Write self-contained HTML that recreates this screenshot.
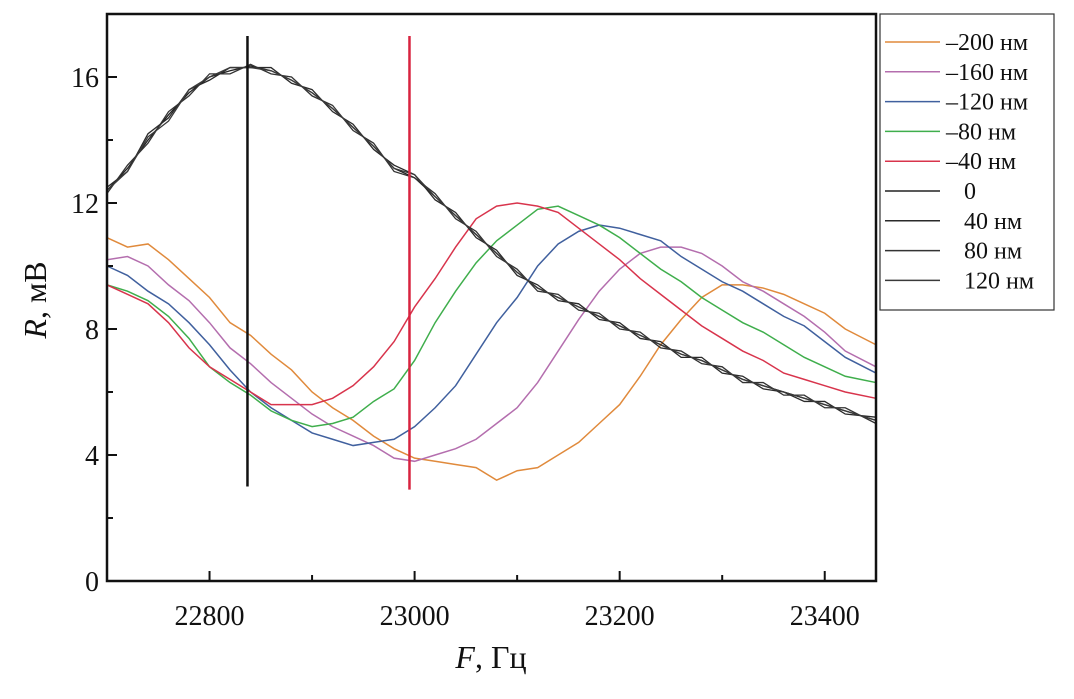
<!DOCTYPE html>
<html><head><meta charset="utf-8"><style>
body{margin:0;background:#fff;width:1074px;height:694px;overflow:hidden}
svg text{font-family:"Liberation Serif",serif;fill:#111}
</style></head><body>
<svg width="1074" height="694">
<g id="plot"></g>
<rect x="107" y="14" width="769" height="567" fill="none" stroke="#111" stroke-width="2.5"/>
<g id="axes"></g>
<text x="46" y="300" font-size="32" text-anchor="middle" transform="rotate(-90 46 300)"><tspan font-style="italic">R</tspan>, мВ</text>
<text x="491" y="668" font-size="32" text-anchor="middle"><tspan font-style="italic">F</tspan>, Гц</text>
<rect x="880" y="14" width="174" height="296" fill="#fff" stroke="#333" stroke-width="1.2"/>
<g id="legend"></g>
</svg>
<script>
const F = [22700,22720,22740,22760,22780,22800,22820,22840,22860,22880,22900,22920,22940,22960,22980,23000,23020,23040,23060,23080,23100,23120,23140,23160,23180,23200,23220,23240,23260,23280,23300,23320,23340,23360,23380,23400,23420,23450];
const sM200 = [10.9,10.6,10.7,10.2,9.6,9.0,8.2,7.8,7.2,6.7,6.0,5.5,5.1,4.6,4.2,3.9,3.8,3.7,3.6,3.2,3.5,3.6,4.0,4.4,5.0,5.6,6.5,7.5,8.3,9.0,9.4,9.4,9.3,9.1,8.8,8.5,8.0,7.5];
const sM160 = [10.2,10.3,10.0,9.4,8.9,8.2,7.4,6.9,6.3,5.8,5.3,4.9,4.6,4.3,3.9,3.8,4.0,4.2,4.5,5.0,5.5,6.3,7.3,8.3,9.2,9.9,10.4,10.6,10.6,10.4,10.0,9.5,9.2,8.8,8.4,7.9,7.3,6.8];
const sM120 = [10.0,9.7,9.2,8.8,8.2,7.5,6.7,6.0,5.5,5.1,4.7,4.5,4.3,4.4,4.5,4.9,5.5,6.2,7.2,8.2,9.0,10.0,10.7,11.1,11.3,11.2,11.0,10.8,10.3,9.9,9.5,9.2,8.8,8.4,8.1,7.6,7.1,6.6];
const sM80 = [9.4,9.2,8.9,8.4,7.7,6.8,6.3,5.9,5.4,5.1,4.9,5.0,5.2,5.7,6.1,7.0,8.2,9.2,10.1,10.8,11.3,11.8,11.9,11.6,11.3,10.9,10.4,9.9,9.5,9.0,8.6,8.2,7.9,7.5,7.1,6.8,6.5,6.3];
const sM40 = [9.4,9.1,8.8,8.2,7.4,6.8,6.4,6.0,5.6,5.6,5.6,5.8,6.2,6.8,7.6,8.7,9.6,10.6,11.5,11.9,12.0,11.9,11.7,11.2,10.7,10.2,9.6,9.1,8.6,8.1,7.7,7.3,7.0,6.6,6.4,6.2,6.0,5.8];
const s0 = [12.4,13.1,14.0,14.8,15.5,16.0,16.2,16.35,16.2,15.9,15.5,15.0,14.4,13.8,13.1,12.8,12.2,11.6,11.0,10.4,9.8,9.3,9.0,8.7,8.4,8.1,7.8,7.5,7.2,7.0,6.7,6.4,6.2,6.0,5.8,5.6,5.4,5.1];
const s40 = [12.5,13.0,14.2,14.7,15.6,15.9,16.3,16.3,16.3,15.8,15.6,14.9,14.5,13.7,13.2,12.9,12.1,11.7,10.9,10.5,9.7,9.4,8.9,8.8,8.3,8.2,7.7,7.6,7.1,7.1,6.6,6.5,6.1,6.0,5.7,5.7,5.3,5.2];
const s80 = [12.3,13.2,13.9,14.9,15.4,16.1,16.1,16.4,16.1,16.0,15.4,15.1,14.3,13.9,13.0,12.8,12.3,11.5,11.1,10.3,9.9,9.2,9.1,8.6,8.5,8.0,7.9,7.4,7.3,6.9,6.8,6.3,6.3,5.9,5.9,5.5,5.5,5.0];
const s120 = [12.4,13.0,14.1,14.6,15.6,16.0,16.3,16.3,16.2,15.9,15.5,15.0,14.4,13.8,13.1,12.9,12.2,11.6,11.0,10.4,9.8,9.3,9.0,8.7,8.4,8.1,7.8,7.5,7.2,7.0,6.7,6.4,6.2,6.0,5.8,5.6,5.4,5.1];
const seriesNames = ["–200 нм","–160 нм","–120 нм","–80 нм","–40 нм","0","40 нм","80 нм","120 нм"];
const xTicks = [22800,23000,23200,23400];
const xMinor = [22900,23100,23300];
const yTicks = [0,4,8,12,16];
const yMinor = [2,6,10,14];
const markers = [22837,22995];

const NS="http://www.w3.org/2000/svg";
const X0=107,X1=876,Y0=581,Y1=14;
const xs=f=>X0+(f-22700)/(23450-22700)*(X1-X0);
const ys=v=>Y0-v*(Y0-77)/16;
function mk(tag,attrs,parent){const e=document.createElementNS(NS,tag);for(const k in attrs)e.setAttribute(k,attrs[k]);parent.appendChild(e);return e;}
const plot=document.getElementById('plot'),axes=document.getElementById('axes'),leg=document.getElementById('legend');
const data=[sM200,sM160,sM120,sM80,sM40,s0,s40,s80,s120];
const colors=["#e08a3c","#b46eae","#40609e","#3fae4c","#d8344c","#222","#2a2a2a","#333","#3a3a3a"];
const names=["series-minus200","series-minus160","series-minus120","series-minus80","series-minus40","series-0","series-40","series-80","series-120"];
data.forEach((d,i)=>{
  const p=mk('polyline',{points:d.map((v,j)=>xs(F[j])+','+ys(v)).join(' '),fill:'none',stroke:colors[i],'stroke-width':i>=5?1.3:1.5},plot);
  
  
});
const mc=["#111","#d8233f"];
markers.forEach((f,i)=>{
  const l=mk('line',{x1:xs(f),x2:xs(f),y1:ys(17.3),y2:ys(i?2.9:3.0),stroke:mc[i],'stroke-width':2.5},plot);
  
  
});
xTicks.forEach(t=>{
  const l=mk('line',{x1:xs(t),x2:xs(t),y1:Y0,y2:Y0-10,stroke:'#111','stroke-width':2},axes);
  
  
  const tx=mk('text',{x:xs(t),y:Y0+44,'font-size':28,'text-anchor':'middle'},axes);
  tx.textContent=t;
  
  
});
xMinor.forEach(t=>{
  const l=mk('line',{x1:xs(t),x2:xs(t),y1:Y0,y2:Y0-6,stroke:'#111','stroke-width':2},axes);
  
  
});
yTicks.forEach(t=>{
  const l=mk('line',{x1:X0,x2:X0+10,y1:ys(t),y2:ys(t),stroke:'#111','stroke-width':2},axes);
  
  
  const tx=mk('text',{x:X0-8,y:ys(t)+10,'font-size':28,'text-anchor':'end'},axes);
  tx.textContent=t;
  
  
});
yMinor.forEach(t=>{
  const l=mk('line',{x1:X0,x2:X0+6,y1:ys(t),y2:ys(t),stroke:'#111','stroke-width':2},axes);
  
  
});
seriesNames.forEach((n,i)=>{
  const y=42+i*29.8;
  const g=mk('g',{},leg);
  
  
  mk('line',{x1:885,x2:940,y1:y,y2:y,stroke:colors[i],'stroke-width':1.5},g);
  const tx=mk('text',{x:n.startsWith('–')?946:964,y:y+8,'font-size':24},g);
  tx.textContent=n;
});
</script>
</body></html>
